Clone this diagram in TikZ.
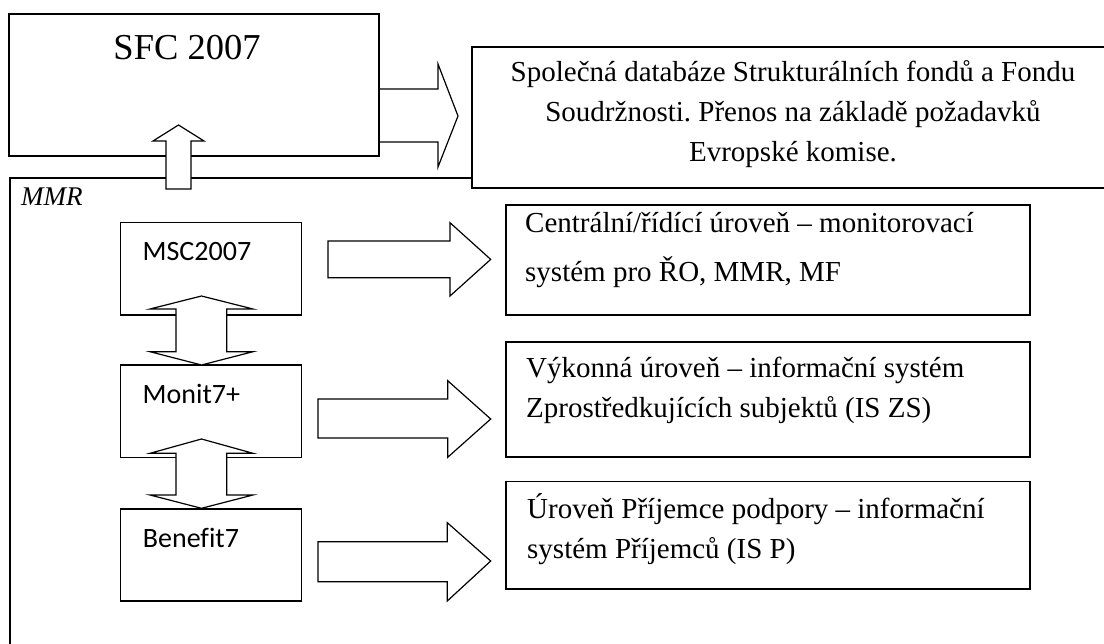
\documentclass[tikz,border=0pt]{standalone}
\usepackage{fontspec}
\setmainfont[Ligatures=NoCommon]{Liberation Serif}
\newfontfamily\calibrifont[Ligatures=NoCommon]{Carlito}
\usetikzlibrary{fit}
\frenchspacing
\begin{document}
\begin{tikzpicture}[x=1pt,y=-1pt,
  box/.style={draw, line width=1.5pt, inner sep=0pt, outer sep=0pt, fill=white},
  rbox/.style={box, line width=1.8pt},
  barrow/.style={draw, line width=1.2pt, fill=white, line join=miter},
  sertext/.style={inner sep=0pt, anchor=base west, font=\fontsize{29}{40}\selectfont},
  caltext/.style={inner sep=0pt, anchor=base west, font=\calibrifont\fontsize{28}{32}\selectfont}]
\useasboundingbox (0,0) rectangle (1104,644);
\clip (0,0) rectangle (1104,644);
% MMR frame
\node[box, fill=none, fit={(10,178) (1130,680)}] (mmr) {};
\node[inner sep=0pt, anchor=base west, font=\itshape\fontsize{27}{30}\selectfont] (mmrl) at (21,206) {MMR};
% database box
\node[rbox, fit={(471.7,46.7) (1114,188)}] (db) {};
\node[inner sep=0pt, anchor=base, font=\fontsize{29}{40}\selectfont] (dbt) at (793,82)
  {\vtop{\baselineskip=40pt\halign{\hfil#\hfil\cr
   Společná databáze Strukturálních fondů a Fondu\cr
   Soudržnosti. Přenos na základě požadavků\cr
   Evropské komise.\cr}}};
% SFC -> db arrow
\draw[barrow] (379,89) -- (438,89) -- (438,64) -- (458,116) -- (438,167) -- (438,142) -- (379,142);
% SFC box
\node[box, fit={(9,14) (379,156)}] (sfc) {};
\node[inner sep=0pt, anchor=base, font=\fontsize{36.5}{40}\selectfont] (sfct) at (187,60) {SFC 2007};
% MMR -> SFC arrow
\draw[barrow] (166,189) -- (166,141) -- (153,141) -- (178.5,125) -- (204,141) -- (191,141) -- (191,189) -- cycle;
% left column boxes
\node[box, fit={(120.7,222.7) (301.7,315)}] (msc) {};
\node[caltext] (msct) at (142.5,260.5) {MSC2007};
\node[box, fit={(120.7,365) (301.7,457.3)}] (monit) {};
\node[caltext] (monitt) at (142.5,404) {Monit7+};
\node[box, fit={(120.7,509) (301.7,601)}] (benefit) {};
\node[caltext] (benefitt) at (142.7,547.7) {Benefit7};
% double arrows
\draw[barrow] (176,309) -- (150,309) -- (201.5,296) -- (253,309) -- (226.7,309) -- (226.7,351.7)
  -- (253,351.7) -- (201.5,365) -- (150,351.7) -- (176,351.7) -- cycle;
\draw[barrow] (176,453.3) -- (150,453.3) -- (201.5,439) -- (253,453.3) -- (226.7,453.3) -- (226.7,495)
  -- (253,495) -- (201.5,508.3) -- (150,495) -- (176,495) -- cycle;
% right arrows
\draw[barrow] (328,241) -- (450,241) -- (450,222.7) -- (490.7,259.4) -- (450,296) -- (450,277.7) -- (328,277.7) -- cycle;
\draw[barrow] (318,399) -- (447.7,399) -- (447.7,380.7) -- (490.7,419) -- (447.7,457.3) -- (447.7,438) -- (318,438) -- cycle;
\draw[barrow] (318,541.7) -- (447.3,541.7) -- (447.3,522.7) -- (490.7,561) -- (447.3,601) -- (447.3,581.7) -- (318,581.7) -- cycle;
% right boxes
\node[rbox, fit={(505.7,205) (1030,315)}] (lvl1) {};
\node[sertext] (lvl1t) at (525,233) {\vtop{\baselineskip=48.5pt
  \hbox{Centrální/řídící úroveň – monitorovací}\hbox{systém pro ŘO, MMR, MF}}};
\node[rbox, fit={(505.7,341.7) (1030,456.7)}] (lvl2) {};
\node[sertext] (lvl2t) at (526,378) {\vtop{\baselineskip=40pt
  \hbox{Výkonná úroveň – informační systém}\hbox{Zprostředkujících subjektů (IS ZS)}}};
\node[rbox, fit={(505.7,481.5) (1030,589.3)}] (lvl3) {};
\node[sertext] (lvl3t) at (527,518) {\vtop{\baselineskip=40pt
  \hbox{Úroveň Příjemce podpory – informační}\hbox{systém Příjemců (IS P)}}};
\end{tikzpicture}
\end{document}
